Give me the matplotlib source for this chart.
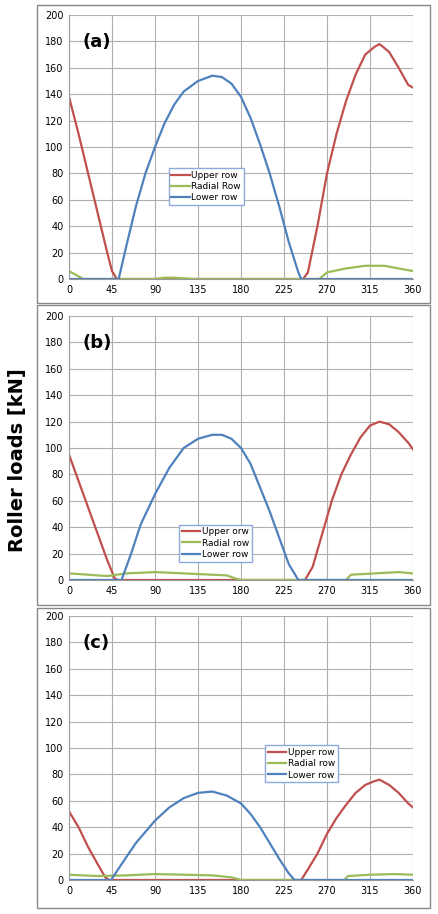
import matplotlib
matplotlib.use('Agg')
import matplotlib.pyplot as plt
from matplotlib.patches import Rectangle

# (angle, load) pairs
upper_a = [(0, 138), (10, 110), (20, 80), (30, 50), (40, 20), (45, 6), (50, 0), (245, 0), (250, 5), (260, 40),
           (270, 80), (280, 110), (290, 135), (300, 155), (310, 170), (320, 176), (325, 178), (335, 172),
           (345, 160), (355, 147), (360, 145)]
radial_a = [(0, 6), (10, 2), (15, 0), (90, 0), (100, 1), (110, 1), (120, 0.5), (130, 0), (262, 0), (270, 5),
            (290, 8), (310, 10), (330, 10), (345, 8), (360, 6)]
lower_a = [(0, 0), (52, 0), (60, 25), (70, 55), (80, 80), (90, 100), (100, 118), (110, 132), (120, 142),
           (135, 150), (150, 154), (160, 153), (170, 148), (180, 138), (190, 122), (200, 102), (210, 80),
           (220, 55), (230, 28), (240, 5), (243, 0), (360, 0)]

upper_b = [(0, 95), (10, 75), (20, 55), (30, 35), (40, 15), (48, 1), (52, 0), (247, 0), (255, 10), (265, 35),
           (275, 60), (285, 80), (295, 95), (305, 108), (315, 117), (325, 120), (335, 118), (345, 112),
           (355, 104), (360, 99)]
radial_b = [(0, 5), (20, 4), (40, 3), (60, 5), (90, 6), (120, 5), (150, 4), (165, 3.5), (175, 1), (180, 0),
            (290, 0), (295, 4), (320, 5), (345, 6), (360, 5)]
lower_b = [(0, 0), (55, 0), (65, 20), (75, 42), (90, 65), (105, 85), (120, 100), (135, 107), (150, 110),
           (160, 110), (170, 107), (180, 100), (190, 88), (200, 70), (210, 52), (220, 32), (230, 12),
           (240, 0), (360, 0)]

upper_c = [(0, 52), (10, 40), (20, 25), (30, 12), (38, 2), (42, 0), (243, 0), (250, 8), (260, 20), (270, 35),
           (280, 47), (290, 57), (300, 66), (310, 72), (320, 75), (325, 76), (335, 72), (345, 66),
           (355, 58), (360, 55)]
radial_c = [(0, 4), (30, 3), (60, 3.5), (90, 4.5), (120, 4), (150, 3.5), (170, 2), (180, 0), (288, 0),
            (292, 3), (315, 4), (340, 4.5), (360, 4)]
lower_c = [(0, 0), (44, 0), (55, 12), (70, 28), (90, 45), (105, 55), (120, 62), (135, 66), (150, 67),
           (165, 64), (180, 58), (190, 50), (200, 40), (210, 28), (220, 16), (230, 5), (236, 0), (360, 0)]

panels = [
    ('(a)', upper_a, radial_a, lower_a, ['Upper row', 'Radial Row', 'Lower row'], (0.29, 0.28)),
    ('(b)', upper_b, radial_b, lower_b, ['Upper orw', 'Radial row', 'Lower row'], (0.32, 0.07)),
    ('(c)', upper_c, radial_c, lower_c, ['Upper row', 'Radial row', 'Lower row'], (0.57, 0.37)),
]
colors = ['#c0504d', '#9bbb59', '#4f81bd']

W, H = 438, 914
fig = plt.figure(figsize=(W / 100, H / 100), dpi=100)

frames = [(5, 303), (305, 605), (608, 908)]
axes_px = [(15, 279), (316, 580), (616, 880)]
for (label, up, rad, low, names, lpos), (f0, f1), (a0, a1) in zip(panels, frames, axes_px):
    fig.add_artist(Rectangle((37 / W, 1 - f1 / H), 393 / W, (f1 - f0) / H, transform=fig.transFigure,
                             fill=False, edgecolor='#888888', lw=1))
    ax = fig.add_axes([69 / W, 1 - a1 / H, (413 - 69) / W, (a1 - a0) / H])
    for series, c, n in zip([up, rad, low], colors, names):
        xs = [p[0] for p in series]
        ys = [p[1] for p in series]
        ax.plot(xs, ys, color=c, lw=1.6, label=n)
    ax.set_xlim(0, 360)
    ax.set_ylim(0, 200)
    ax.set_xticks(range(0, 361, 45))
    ax.set_yticks(range(0, 201, 20))
    ax.grid(color='#b0b0b0', lw=0.8)
    ax.tick_params(labelsize=7, length=0, pad=4)
    for s in ['top', 'right']:
        ax.spines[s].set_visible(False)
    for s in ['left', 'bottom']:
        ax.spines[s].set_color('#999999')
    ax.text(0.04, 0.93, label, transform=ax.transAxes, fontsize=13, fontweight='bold', va='top')
    leg = ax.legend(loc='lower left', bbox_to_anchor=lpos, fontsize=6.5, fancybox=False, framealpha=1,
                    handlelength=2, borderpad=0.3, labelspacing=0.25, handletextpad=0.2, borderaxespad=0)
    leg.get_frame().set_edgecolor('#8eaadb')

fig.text(18 / W, 1 - 460 / H, 'Roller loads [kN]', rotation=90, fontsize=14, fontweight='bold',
         ha='center', va='center')

fig.savefig('out.png', dpi=100)
